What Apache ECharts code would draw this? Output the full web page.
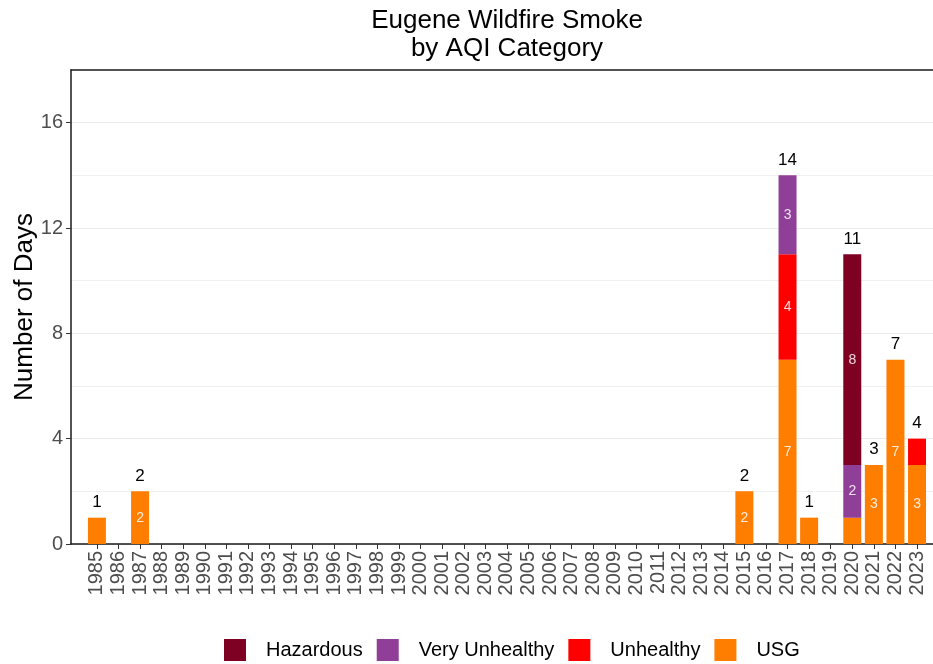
<!DOCTYPE html>
<html>
<head>
<meta charset="utf-8">
<script src="https://cdn.jsdelivr.net/npm/echarts@6/dist/echarts.min.js"></script>
<style>html,body{margin:0;padding:0;background:#fff}#c{width:933px;height:664px}</style>
</head>
<body>
<div id="c"></div>
<script>
const years = [];
for (let y = 1985; y <= 2023; y++) years.push(y);
// values by year (1985..2023), zero where none
const usg =           [1,0,2,0,0,0,0,0,0,0,0,0,0,0,0,0,0,0,0,0,0,0,0,0,0,0,0,0,0,0,2,0,7,1,0,1,3,7,3];
const unhealthy =     [0,0,0,0,0,0,0,0,0,0,0,0,0,0,0,0,0,0,0,0,0,0,0,0,0,0,0,0,0,0,0,0,4,0,0,0,0,0,1];
const veryUnhealthy = [0,0,0,0,0,0,0,0,0,0,0,0,0,0,0,0,0,0,0,0,0,0,0,0,0,0,0,0,0,0,0,0,3,0,0,2,0,0,0];
const hazardous =     [0,0,0,0,0,0,0,0,0,0,0,0,0,0,0,0,0,0,0,0,0,0,0,0,0,0,0,0,0,0,0,0,0,0,0,8,0,0,0];
const yTicks = [0,4,8,12,16];

const totals = years.map((y,i)=>usg[i]+unhealthy[i]+veryUnhealthy[i]+hazardous[i]);

const font = 'Liberation Sans, Arial, sans-serif';
function seg(name, arr, color){
  return {
    name, type:'bar', stack:'s', barWidth:18,
    encode:{x:1, y:0},
    itemStyle:{color},
    emphasis:{disabled:true},
    label:{show:true, position:'inside', color:'rgba(255,255,255,0.85)', fontSize:14, fontFamily:font,
      formatter:p=> arr[p.dataIndex] >= 2 ? String(arr[p.dataIndex]) : ''},
    data: years.map((y,i)=>[arr[i], y])
  };
}

const chart = echarts.init(document.getElementById('c'));
chart.setOption({
  animation:false,
  backgroundColor:'#fff',
  graphic:[{type:'text', x:507, y:7, style:{text:'Eugene Wildfire Smoke\nby AQI Category', align:'center',
    fontFamily:font, fontSize:26, fill:'#000', lineHeight:28}}],
  legend:{data:['Hazardous','Very Unhealthy','Unhealthy','USG'], left:219, top:634,
    itemWidth:22, itemHeight:22, itemGap:14, icon:'rect',
    textStyle:{fontFamily:font, fontSize:20, color:'#000', padding:[0,0,0,15]}},
  grid:{left:71, right:0, top:70, bottom:120, containLabel:false, outerBoundsMode:'none'},
  xAxis:[{
    type:'value', min:1983.8, max:2023.74,
    axisLine:{show:true, onZero:false, lineStyle:{color:'#1a1a1a', width:1.5}},
    axisTick:{show:true, customValues:years, length:5, lineStyle:{color:'#333'}},
    axisLabel:{show:true, customValues:years, rotate:90, fontFamily:font, fontSize:20, color:'#4d4d4d', margin:7,
      formatter:v=>String(Math.round(v))},
    splitLine:{show:false}
  },{
    type:'value', min:1983.8, max:2023.74, position:'top',
    axisLine:{show:true, onZero:false, lineStyle:{color:'#1a1a1a', width:1.5}},
    axisTick:{show:false}, axisLabel:{show:false}, splitLine:{show:false}
  }],
  yAxis:{
    type:'value', min:0, max:18, interval:4,
    name:'Number of Days', nameLocation:'middle', nameGap:33, nameMoveOverlap:false,
    nameTextStyle:{fontFamily:font, fontSize:26, color:'#000'},
    axisLine:{show:true, lineStyle:{color:'#1a1a1a', width:1.5}},
    axisTick:{show:true, customValues:yTicks, length:5, lineStyle:{color:'#333'}},
    axisLabel:{customValues:yTicks, fontFamily:font, fontSize:20, color:'#4d4d4d', margin:8},
    splitLine:{show:true, lineStyle:{color:'#ebebeb', width:1}},
    minorTick:{show:false, splitNumber:2},
    minorSplitLine:{show:true, lineStyle:{color:'#f0f0f0', width:1}}
  },
  series:[
    seg('USG', usg, '#FF7E00'),
    seg('Unhealthy', unhealthy, '#FF0000'),
    seg('Very Unhealthy', veryUnhealthy, '#8F3F97'),
    seg('Hazardous', hazardous, '#7E0023'),
    {name:'Total', type:'bar', stack:'s', barWidth:18, encode:{x:1, y:0},
     itemStyle:{color:'transparent'}, emphasis:{disabled:true},
     label:{show:true, position:'top', distance:7, color:'#000', fontSize:17, fontFamily:font,
       formatter:p=> totals[p.dataIndex] > 0 ? String(totals[p.dataIndex]) : ''},
     data: years.map(y=>[0, y])}
  ]
});
</script>
</body>
</html>
